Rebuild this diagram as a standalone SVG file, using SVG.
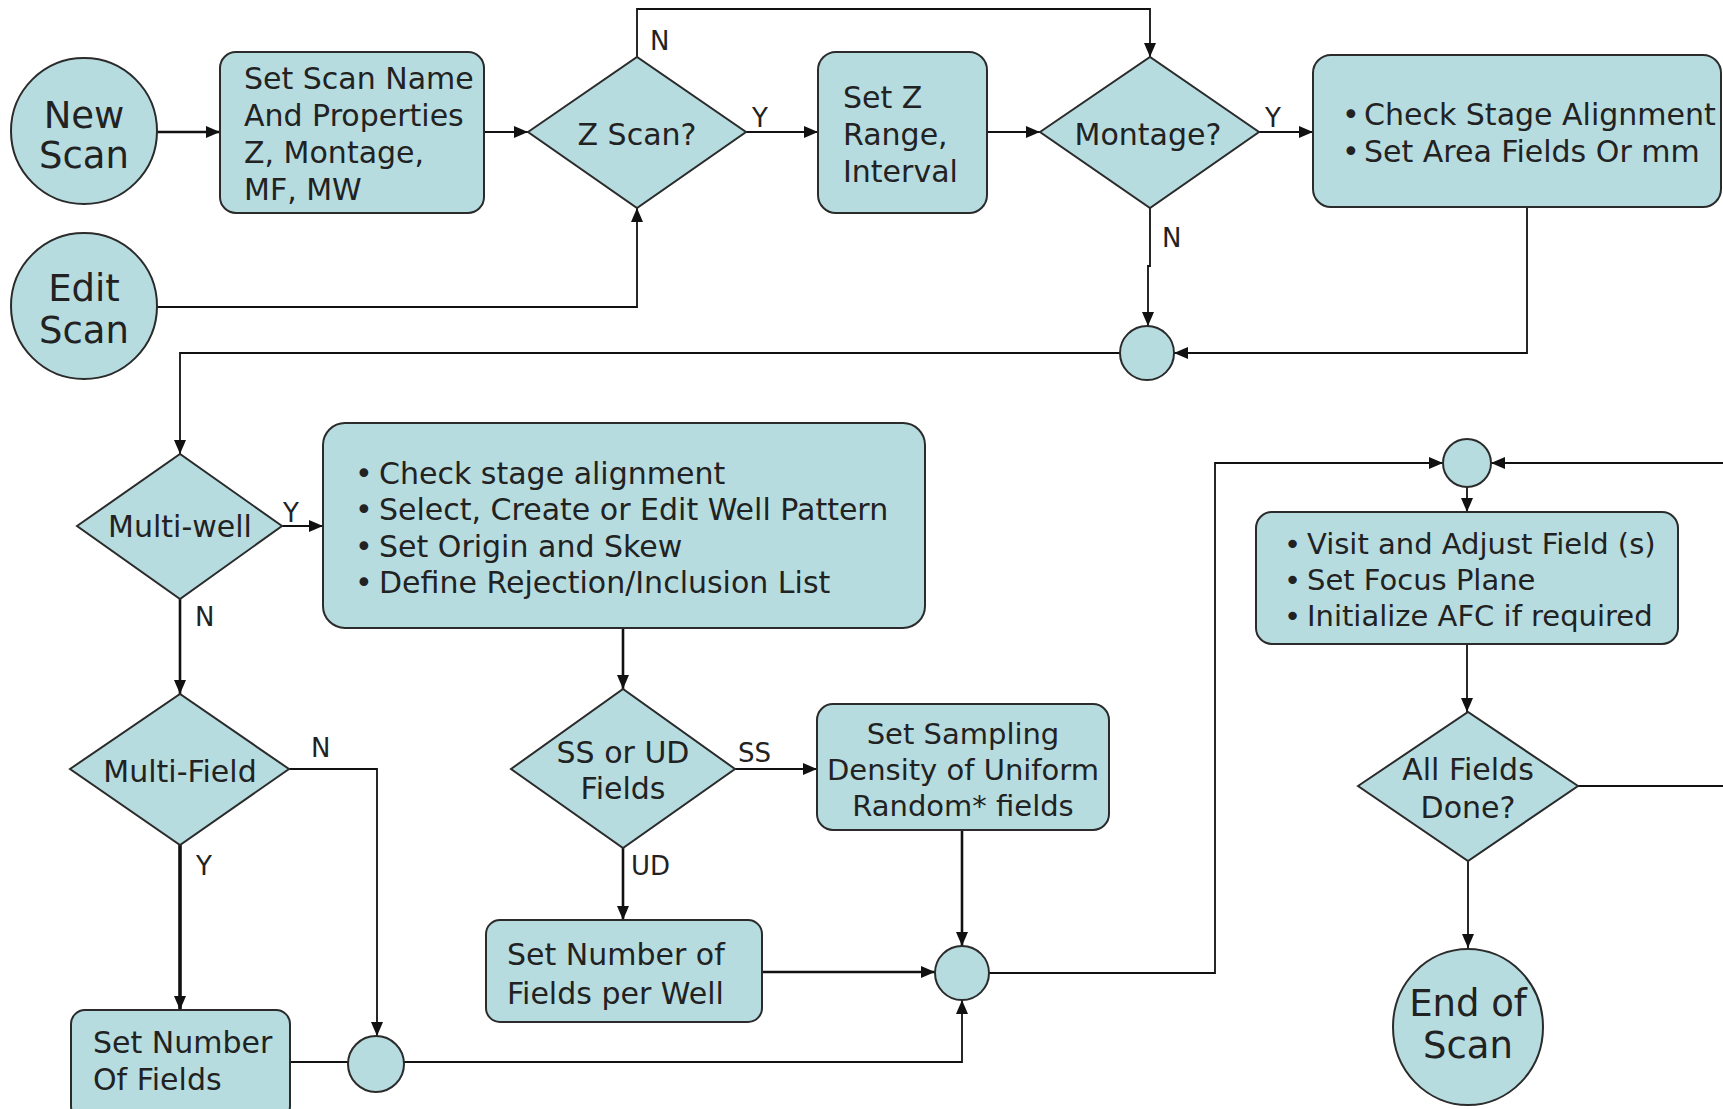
<svg xmlns="http://www.w3.org/2000/svg" width="1723" height="1109" viewBox="0 0 1723 1109">
<defs>
<style>
.n{fill:#b6dce0;stroke:#2b2b2b;stroke-width:2}
.t{font-family:"DejaVu Sans",sans-serif;fill:#222;font-size:30px}
.b{font-size:37px}
.s{font-size:29px}
.m{text-anchor:middle}
.c{fill:none;stroke:#111;stroke-width:1.8}
.k{stroke-width:2.6}
.kk{stroke-width:3.6}
.l{font-family:"DejaVu Sans",sans-serif;fill:#222;font-size:26px}
</style>
<marker id="a" viewBox="0 0 14 12" refX="14" refY="6" markerWidth="14" markerHeight="12" markerUnits="userSpaceOnUse" orient="auto">
<path d="M0,0 L14,6 L0,12 z" fill="#111"/>
</marker>
</defs>
<rect width="1723" height="1109" fill="#fff"/>

<g id="connectors">
<path class="c k" d="M157,132 H220" marker-end="url(#a)"/>
<path class="c" d="M484,132 H528" marker-end="url(#a)"/>
<path class="c" d="M157,307 H637 V208" marker-end="url(#a)"/>
<path class="c" d="M637,57 V9 H1150 V57" marker-end="url(#a)"/>
<path class="c" d="M746,132 H818" marker-end="url(#a)"/>
<path class="c" d="M987,132 H1040" marker-end="url(#a)"/>
<path class="c" d="M1259,132 H1313" marker-end="url(#a)"/>
<path class="c" d="M1150,208 V266 H1148 V326" marker-end="url(#a)"/>
<path class="c" d="M1527,207 V353 H1174" marker-end="url(#a)"/>
<path class="c" d="M1120,353 H180 V454" marker-end="url(#a)"/>
<path class="c" d="M282,526 H323" marker-end="url(#a)"/>
<path class="c k" d="M180,599 V694" marker-end="url(#a)"/>
<path class="c" d="M289,769 H377 V1036" marker-end="url(#a)"/>
<path class="c kk" d="M180,845 V1010" marker-end="url(#a)"/>
<path class="c" d="M290,1062 H348"/>
<path class="c" d="M404,1062 H962 V1000" marker-end="url(#a)"/>
<path class="c k" d="M623,628 V689" marker-end="url(#a)"/>
<path class="c" d="M735,769 H817" marker-end="url(#a)"/>
<path class="c k" d="M623,848 V920" marker-end="url(#a)"/>
<path class="c k" d="M762,972 H935" marker-end="url(#a)"/>
<path class="c k" d="M962,830 V946" marker-end="url(#a)"/>
<path class="c" d="M989,973 H1215 V463 H1443" marker-end="url(#a)"/>
<path class="c" d="M1578,786 H1740 V463 H1491" marker-end="url(#a)"/>
<path class="c" d="M1467,487 V512" marker-end="url(#a)"/>
<path class="c" d="M1467,644 V712" marker-end="url(#a)"/>
<path class="c" d="M1468,861 V948" marker-end="url(#a)"/>
<text class="l" x="650" y="50">N</text>
<text class="l" x="752" y="127">Y</text>
<text class="l" x="1265" y="127">Y</text>
<text class="l" x="1162" y="247">N</text>
<text class="l" x="283" y="522">Y</text>
<text class="l" x="195" y="626">N</text>
<text class="l" x="311" y="757">N</text>
<text class="l" x="196" y="875">Y</text>
<text class="l" x="738" y="762">SS</text>
<text class="l" x="631" y="875">UD</text>
</g>

<g id="new-scan">
<circle class="n" cx="84" cy="131" r="73"/>
<text class="t b m" x="84" y="128">New</text>
<text class="t b m" x="84" y="168">Scan</text>
</g>
<g id="edit-scan">
<circle class="n" cx="84" cy="306" r="73"/>
<text class="t b m" x="84" y="301">Edit</text>
<text class="t b m" x="84" y="343">Scan</text>
</g>
<g id="set-scan-name">
<rect class="n" x="220" y="52" width="264" height="161" rx="16"/>
<text class="t" x="244" y="89">Set Scan Name</text>
<text class="t" x="244" y="126">And Properties</text>
<text class="t" x="244" y="163">Z, Montage,</text>
<text class="t" x="244" y="200">MF, MW</text>
</g>
<g id="z-scan">
<polygon class="n" points="528,132 637,57 746,132 637,208"/>
<text class="t m" x="637" y="145">Z Scan?</text>
</g>
<g id="set-z">
<rect class="n" x="818" y="52" width="169" height="161" rx="18"/>
<text class="t" x="843" y="108">Set Z</text>
<text class="t" x="843" y="145">Range,</text>
<text class="t" x="843" y="182">Interval</text>
</g>
<g id="montage">
<polygon class="n" points="1040,132 1150,57 1259,132 1150,208"/>
<text class="t m" x="1148" y="145">Montage?</text>
</g>
<g id="check-stage">
<rect class="n" x="1313" y="55" width="408" height="152" rx="18"/>
<text class="t"><tspan x="1342" y="125">•</tspan><tspan x="1364" y="125">Check Stage Alignment</tspan></text>
<text class="t"><tspan x="1342" y="162">•</tspan><tspan x="1364" y="162">Set Area Fields Or mm</tspan></text>
</g>
<g id="junction-1">
<circle class="n" cx="1147" cy="353" r="27"/>
</g>
<g id="multi-well">
<polygon class="n" points="77,526 180,454 282,526 180,599"/>
<text class="t m" x="180" y="537">Multi-well</text>
</g>
<g id="well-pattern">
<rect class="n" x="323" y="423" width="602" height="205" rx="22"/>
<text class="t"><tspan x="355" y="484">•</tspan><tspan x="379" y="484">Check stage alignment</tspan></text>
<text class="t"><tspan x="355" y="520">•</tspan><tspan x="379" y="520">Select, Create or Edit Well Pattern</tspan></text>
<text class="t"><tspan x="355" y="557">•</tspan><tspan x="379" y="557">Set Origin and Skew</tspan></text>
<text class="t"><tspan x="355" y="593">•</tspan><tspan x="379" y="593">Define Rejection/Inclusion List</tspan></text>
</g>
<g id="multi-field">
<polygon class="n" points="70,769 180,694 289,769 180,845"/>
<text class="t m" x="180" y="782">Multi-Field</text>
</g>
<g id="set-number-of-fields">
<rect class="n" x="71" y="1010" width="219" height="110" rx="14"/>
<text class="t" x="93" y="1053">Set Number</text>
<text class="t" x="93" y="1090">Of Fields</text>
</g>
<g id="junction-small">
<circle class="n" cx="376" cy="1064" r="28"/>
</g>
<g id="ss-or-ud">
<polygon class="n" points="511,769 623,689 735,769 623,848"/>
<text class="t m" x="623" y="763">SS or UD</text>
<text class="t m" x="623" y="799">Fields</text>
</g>
<g id="set-sampling">
<rect class="n" x="817" y="704" width="292" height="126" rx="16"/>
<text class="t s m" x="963" y="744">Set Sampling</text>
<text class="t s m" x="963" y="780">Density of Uniform</text>
<text class="t s m" x="963" y="816">Random* fields</text>
</g>
<g id="fields-per-well">
<rect class="n" x="486" y="920" width="276" height="102" rx="14"/>
<text class="t" x="507" y="965">Set Number of</text>
<text class="t" x="507" y="1004">Fields per Well</text>
</g>
<g id="junction-2">
<circle class="n" cx="962" cy="973" r="27"/>
</g>
<g id="junction-3">
<circle class="n" cx="1467" cy="463" r="24"/>
</g>
<g id="visit-fields">
<rect class="n" x="1256" y="512" width="422" height="132" rx="16"/>
<text class="t s"><tspan x="1284" y="554">•</tspan><tspan x="1307" y="554">Visit and Adjust Field (s)</tspan></text>
<text class="t s"><tspan x="1284" y="590">•</tspan><tspan x="1307" y="590">Set Focus Plane</tspan></text>
<text class="t s"><tspan x="1284" y="626">•</tspan><tspan x="1307" y="626">Initialize AFC if required</tspan></text>
</g>
<g id="all-fields-done">
<polygon class="n" points="1358,786 1468,712 1578,786 1468,861"/>
<text class="t m" x="1468" y="780">All Fields</text>
<text class="t m" x="1468" y="818">Done?</text>
</g>
<g id="end-of-scan">
<ellipse class="n" cx="1468" cy="1027" rx="75" ry="78"/>
<text class="t b m" x="1468" y="1016">End of</text>
<text class="t b m" x="1468" y="1058">Scan</text>
</g>
</svg>
